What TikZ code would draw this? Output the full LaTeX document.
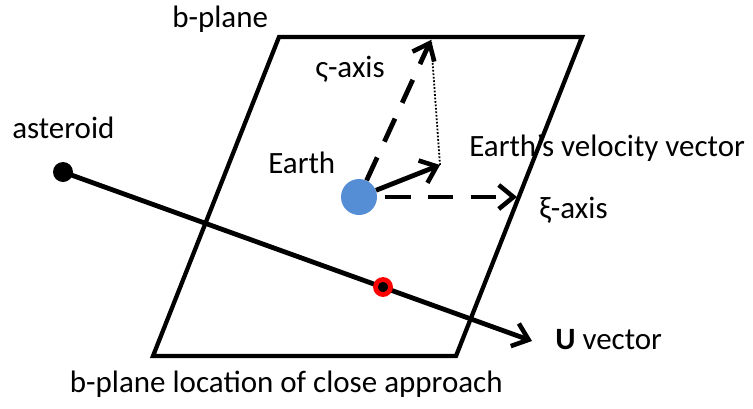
\documentclass[tikz,border=0pt]{standalone}
\usepackage{fontspec}
\setmainfont{Carlito}
\usetikzlibrary{arrows.meta}
\definecolor{earthblue}{RGB}{85,142,213}
\begin{document}
\begin{tikzpicture}[x=0.75pt,y=-0.75pt,
  lbl/.style={inner sep=0pt, font=\fontsize{23.25}{28}\selectfont},
  plane/.style={line width=3.2pt, line join=miter},
  vec/.style={line width=3.6pt, -{Straight Barb[length=11pt,width=18pt,line width=3.4pt]}},
  axisvec/.style={vec, dash pattern=on 19pt off 13pt},
  guide/.style={line width=1.4pt, dash pattern=on 1.3pt off 1.3pt},
  dotnode/.style={circle, inner sep=0pt, fill=black, minimum size=15pt},
  approach/.style={circle, inner sep=0pt, fill=black, draw=red, line width=3.6pt, minimum size=11.25pt}]
\useasboundingbox (0,0) rectangle (753,408);

% labels
\node[lbl, anchor=base west] (lplane) at (172,27) {b-plane};
\node[lbl, anchor=base west] (lsig) at (315,77) {ς-axis};
\node[lbl, anchor=base west] (learth) at (268,173) {Earth};
\node[lbl, anchor=base west] (lvel) at (469,156) {Earth's velocity vector};
\node[lbl, anchor=base west] (lxi) at (539,218) {ξ-axis};
\node[lbl, anchor=base west] (last) at (12,138) {asteroid};
\node[lbl, anchor=base west] (lu) at (555,349) {\textbf{U} vector};
\node[lbl, anchor=base east] (lca) at (503,392) {b-plane location of close approach};

% b-plane
\coordinate (p1) at (279,37);
\coordinate (p2) at (582,37);
\coordinate (p3) at (456,356);
\coordinate (p4) at (153,356);
\draw[plane] (p1) -- (p2) -- (p3) -- (p4) -- cycle;

% Earth and its vectors
\node[circle, inner sep=0pt, fill=earthblue, minimum size=27pt] (earth) at (359,197) {};
\coordinate (veltip) at (440,165);
\coordinate (sigtip) at (431,40);
\coordinate (xitip) at (517,197);
\draw[guide] (veltip) -- (sigtip);
\draw[vec] (earth) -- (veltip);
\draw[axisvec] (earth) -- (sigtip);
\draw[axisvec, shorten <=6pt] (earth.east) -- (xitip);

% asteroid trajectory
\node[dotnode] (ast) at (63,172) {};
\coordinate (utip) at (532,341);
\draw[vec] (ast.center) -- (utip);
\node[approach] (ca) at (383,287) {};
\end{tikzpicture}
\end{document}
